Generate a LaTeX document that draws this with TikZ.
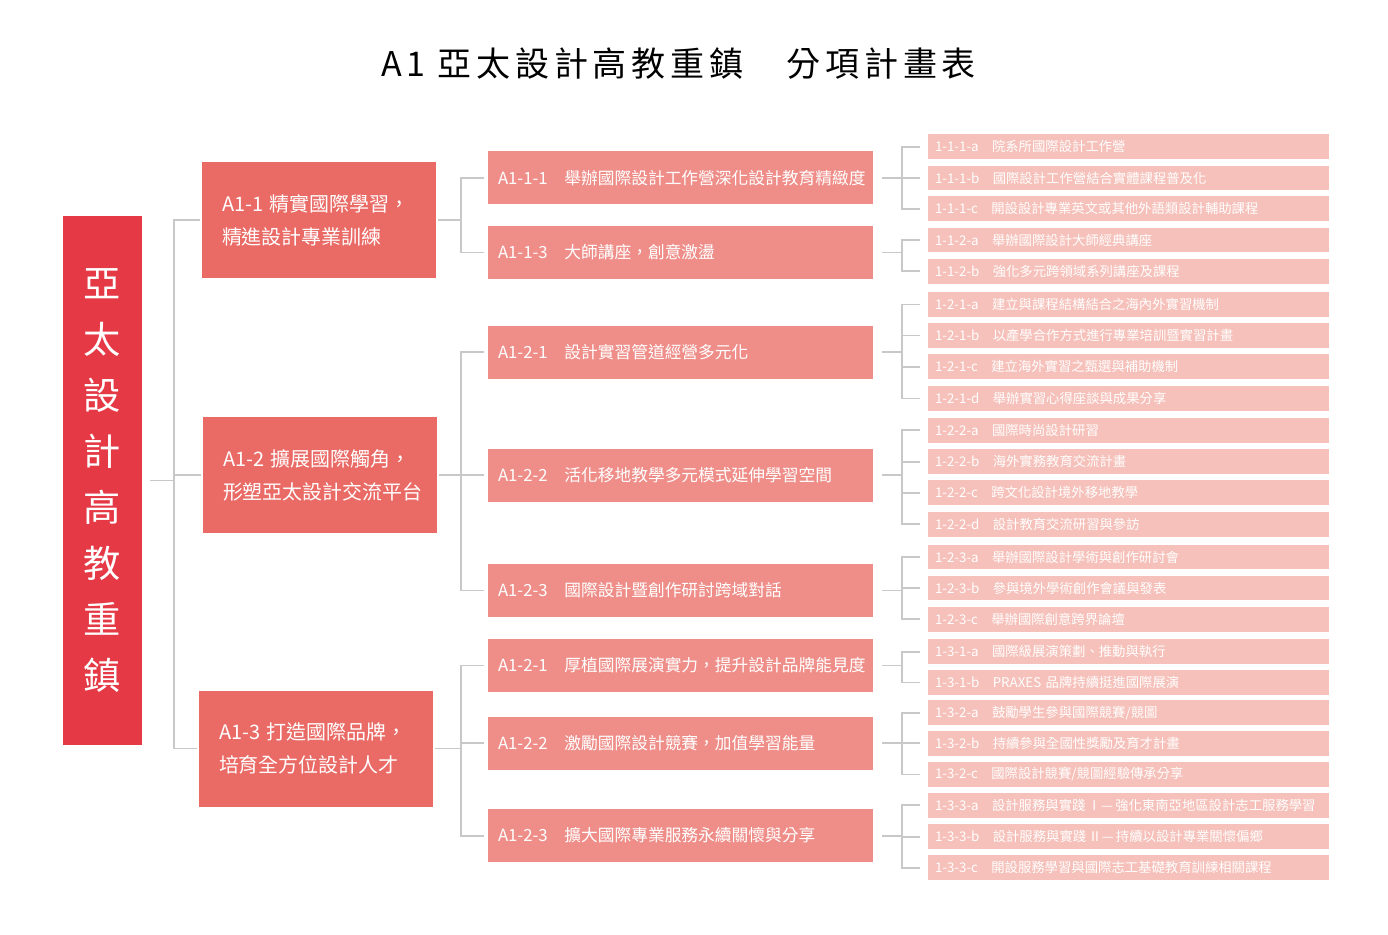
\documentclass[tikz,border=0pt]{standalone}
\usepackage{fontspec}
\setmainfont{Noto Sans CJK TC}
\usepackage{tikz}
\definecolor{rootred}{RGB}{229,57,70}
\definecolor{planred}{RGB}{234,106,101}
\definecolor{itemred}{RGB}{239,142,137}
\definecolor{taskpink}{RGB}{246,193,186}
\definecolor{linegray}{RGB}{200,200,200}

\begin{document}
\begin{tikzpicture}[scale=0.25]
\tikzstyle{every node}+=[inner sep=0pt]
\tikzstyle{rootbox}=[fill=rootred, text=white, minimum width=1.975cm, minimum height=13.225cm, align=center, font=\fontsize{26.5}{39.8}\selectfont]
\tikzstyle{planbox}=[fill=planred, text=white, minimum height=2.9cm, text width=4.85cm, inner xsep=0.5cm, align=left, font=\fontsize{14.2}{23.5}\selectfont]
\tikzstyle{itembox}=[fill=itemred, text=white, minimum height=1.325cm, text width=9.125cm, inner xsep=0.25cm, align=left, font=\fontsize{11.9}{14}\selectfont]
\tikzstyle{taskbox}=[fill=taskpink, text=white, minimum height=0.62cm, text width=9.675cm, inner xsep=0.175cm, align=left, font=\fontsize{9.5}{11}\selectfont]
\tikzstyle{link}=[draw=linegray, line width=1.4pt]
\useasboundingbox (0,0) rectangle (138.8,-93.4);
\node (title) at (67.85,-6.4) {\fontsize{24.2}{28}\selectfont\addfontfeature{LetterSpace=14}A1 亞太設計高教重鎮　分項計畫表};
\node [rootbox] (root) at (10.25,-48.05) {亞\\太\\設\\計\\高\\教\\重\\鎮};
\node [planbox] (p1) at (31.9,-22.03) {A1-1 精實國際學習，\\精進設計專業訓練};
\node [planbox] (p2) at (32.0,-47.5) {A1-2 擴展國際觸角，\\形塑亞太設計交流平台};
\node [planbox] (p3) at (31.6,-74.85) {A1-3 打造國際品牌，\\培育全方位設計人才};
\node [itembox] (s11) at (68.05,-17.77) {\mbox{A1-1-1\quad 舉辦國際設計工作營深化設計教育精緻度}};
\node [itembox] (s13) at (68.05,-25.25) {\mbox{A1-1-3\quad 大師講座，創意激盪}};
\node [itembox] (s21) at (68.05,-35.2) {\mbox{A1-2-1\quad 設計實習管道經營多元化}};
\node [itembox] (s22) at (68.05,-47.5) {\mbox{A1-2-2\quad 活化移地教學多元模式延伸學習空間}};
\node [itembox] (s23) at (68.05,-59.05) {\mbox{A1-2-3\quad 國際設計暨創作研討跨域對話}};
\node [itembox] (s31) at (68.05,-66.55) {\mbox{A1-2-1\quad 厚植國際展演實力，提升設計品牌能見度}};
\node [itembox] (s32) at (68.05,-74.33) {\mbox{A1-2-2\quad 激勵國際設計競賽，加值學習能量}};
\node [itembox] (s33) at (68.05,-83.56) {\mbox{A1-2-3\quad 擴大國際專業服務永續關懷與分享}};
\node [taskbox] (t111a) at (112.85,-14.67) {\mbox{1-1-1-a\quad 院系所國際設計工作營}};
\node [taskbox] (t111b) at (112.85,-17.8) {\mbox{1-1-1-b\quad 國際設計工作營結合實體課程普及化}};
\node [taskbox] (t111c) at (112.85,-20.88) {\mbox{1-1-1-c\quad 開設設計專業英文或其他外語類設計輔助課程}};
\node [taskbox] (t112a) at (112.85,-24.0) {\mbox{1-1-2-a\quad 舉辦國際設計大師經典講座}};
\node [taskbox] (t112b) at (112.85,-27.12) {\mbox{1-1-2-b\quad 強化多元跨領域系列講座及課程}};
\node [taskbox] (t121a) at (112.85,-30.45) {\mbox{1-2-1-a\quad 建立與課程結構結合之海內外實習機制}};
\node [taskbox] (t121b) at (112.85,-33.55) {\mbox{1-2-1-b\quad 以產學合作方式進行專業培訓暨實習計畫}};
\node [taskbox] (t121c) at (112.85,-36.67) {\mbox{1-2-1-c\quad 建立海外實習之甄選與補助機制}};
\node [taskbox] (t121d) at (112.85,-39.85) {\mbox{1-2-1-d\quad 舉辦實習心得座談與成果分享}};
\node [taskbox] (t122a) at (112.85,-43.03) {\mbox{1-2-2-a\quad 國際時尚設計研習}};
\node [taskbox] (t122b) at (112.85,-46.17) {\mbox{1-2-2-b\quad 海外實務教育交流計畫}};
\node [taskbox] (t122c) at (112.85,-49.28) {\mbox{1-2-2-c\quad 跨文化設計境外移地教學}};
\node [taskbox] (t122d) at (112.85,-52.43) {\mbox{1-2-2-d\quad 設計教育交流研習與參訪}};
\node [taskbox] (t123a) at (112.85,-55.7) {\mbox{1-2-3-a\quad 舉辦國際設計學術與創作研討會}};
\node [taskbox] (t123b) at (112.85,-58.8) {\mbox{1-2-3-b\quad 參與境外學術創作會議與發表}};
\node [taskbox] (t123c) at (112.85,-61.92) {\mbox{1-2-3-c\quad 舉辦國際創意跨界論壇}};
\node [taskbox] (t131a) at (112.85,-65.17) {\mbox{1-3-1-a\quad 國際級展演策劃、推動與執行}};
\node [taskbox] (t131b) at (112.85,-68.25) {\mbox{1-3-1-b\quad PRAXES 品牌持續挺進國際展演}};
\node [taskbox] (t132a) at (112.85,-71.28) {\mbox{1-3-2-a\quad 鼓勵學生參與國際競賽/競圖}};
\node [taskbox] (t132b) at (112.85,-74.33) {\mbox{1-3-2-b\quad 持續參與全國性獎勵及育才計畫}};
\node [taskbox] (t132c) at (112.85,-77.45) {\mbox{1-3-2-c\quad 國際設計競賽/競圖經驗傳承分享}};
\node [taskbox] (t133a) at (112.85,-80.53) {\mbox{1-3-3-a\quad 設計服務與實踐\,Ⅰ—\,強化東南亞地區設計志工服務學習}};
\node [taskbox] (t133b) at (112.85,-83.67) {\mbox{1-3-3-b\quad 設計服務與實踐\,Ⅱ—\,持續以設計專業關懷偏鄉}};
\node [taskbox] (t133c) at (112.85,-86.78) {\mbox{1-3-3-c\quad 開設服務學習與國際志工基礎教育訓練相關課程}};
\draw [link, shorten <=0.2cm, shorten >=0.05cm] (root.east) -- ++(3.2,0) |- (p1.west);
\draw [link, shorten <=0.2cm, shorten >=0.05cm] (root.east) -- ++(3.2,0) |- (p2.west);
\draw [link, shorten <=0.2cm, shorten >=0.05cm] (root.east) -- ++(3.2,0) |- (p3.west);
\draw [link, shorten <=0.05cm, shorten >=0.1cm] (p1.east) -- ++(2.5,0) |- (s11.west);
\draw [link, shorten <=0.05cm, shorten >=0.1cm] (p1.east) -- ++(2.5,0) |- (s13.west);
\draw [link, shorten <=0.05cm, shorten >=0.1cm] (p2.east) -- ++(2.4,0) |- (s21.west);
\draw [link, shorten <=0.05cm, shorten >=0.1cm] (p2.east) -- ++(2.4,0) |- (s22.west);
\draw [link, shorten <=0.05cm, shorten >=0.1cm] (p2.east) -- ++(2.4,0) |- (s23.west);
\draw [link, shorten <=0.05cm, shorten >=0.1cm] (p3.east) -- ++(2.8,0) |- (s31.west);
\draw [link, shorten <=0.05cm, shorten >=0.1cm] (p3.east) -- ++(2.8,0) |- (s32.west);
\draw [link, shorten <=0.05cm, shorten >=0.1cm] (p3.east) -- ++(2.8,0) |- (s33.west);
\draw [link, shorten <=0.225cm, shorten >=0.2cm] (s11.east) -- ++(2.9,0) |- (t111a.west);
\draw [link, shorten <=0.225cm, shorten >=0.2cm] (s11.east) -- ++(2.9,0) |- (t111b.west);
\draw [link, shorten <=0.225cm, shorten >=0.2cm] (s11.east) -- ++(2.9,0) |- (t111c.west);
\draw [link, shorten <=0.225cm, shorten >=0.2cm] (s13.east) -- ++(2.9,0) |- (t112a.west);
\draw [link, shorten <=0.225cm, shorten >=0.2cm] (s13.east) -- ++(2.9,0) |- (t112b.west);
\draw [link, shorten <=0.225cm, shorten >=0.2cm] (s21.east) -- ++(2.9,0) |- (t121a.west);
\draw [link, shorten <=0.225cm, shorten >=0.2cm] (s21.east) -- ++(2.9,0) |- (t121b.west);
\draw [link, shorten <=0.225cm, shorten >=0.2cm] (s21.east) -- ++(2.9,0) |- (t121c.west);
\draw [link, shorten <=0.225cm, shorten >=0.2cm] (s21.east) -- ++(2.9,0) |- (t121d.west);
\draw [link, shorten <=0.225cm, shorten >=0.2cm] (s22.east) -- ++(2.9,0) |- (t122a.west);
\draw [link, shorten <=0.225cm, shorten >=0.2cm] (s22.east) -- ++(2.9,0) |- (t122b.west);
\draw [link, shorten <=0.225cm, shorten >=0.2cm] (s22.east) -- ++(2.9,0) |- (t122c.west);
\draw [link, shorten <=0.225cm, shorten >=0.2cm] (s22.east) -- ++(2.9,0) |- (t122d.west);
\draw [link, shorten <=0.225cm, shorten >=0.2cm] (s23.east) -- ++(2.9,0) |- (t123a.west);
\draw [link, shorten <=0.225cm, shorten >=0.2cm] (s23.east) -- ++(2.9,0) |- (t123b.west);
\draw [link, shorten <=0.225cm, shorten >=0.2cm] (s23.east) -- ++(2.9,0) |- (t123c.west);
\draw [link, shorten <=0.225cm, shorten >=0.2cm] (s31.east) -- ++(2.9,0) |- (t131a.west);
\draw [link, shorten <=0.225cm, shorten >=0.2cm] (s31.east) -- ++(2.9,0) |- (t131b.west);
\draw [link, shorten <=0.225cm, shorten >=0.2cm] (s32.east) -- ++(2.9,0) |- (t132a.west);
\draw [link, shorten <=0.225cm, shorten >=0.2cm] (s32.east) -- ++(2.9,0) |- (t132b.west);
\draw [link, shorten <=0.225cm, shorten >=0.2cm] (s32.east) -- ++(2.9,0) |- (t132c.west);
\draw [link, shorten <=0.225cm, shorten >=0.2cm] (s33.east) -- ++(2.9,0) |- (t133a.west);
\draw [link, shorten <=0.225cm, shorten >=0.2cm] (s33.east) -- ++(2.9,0) |- (t133b.west);
\draw [link, shorten <=0.225cm, shorten >=0.2cm] (s33.east) -- ++(2.9,0) |- (t133c.west);
\end{tikzpicture}
\end{document}
